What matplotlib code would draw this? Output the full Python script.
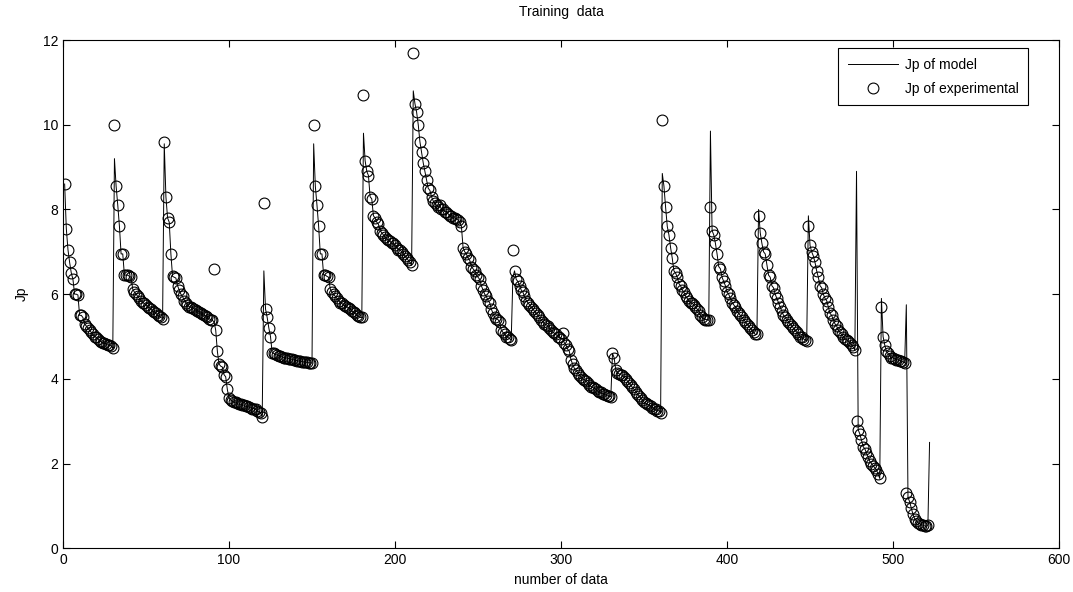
import numpy as np
import matplotlib.pyplot as plt

plt.rcParams['font.family'] = ['Liberation Sans', 'DejaVu Sans']

# experimental Jp, one list per run
seg_a = [8.6, 7.55, 7.05, 6.75, 6.5, 6.35, 6.0, 6.0, 5.98, 5.5, 5.5, 5.45, 5.3, 5.25, 5.2,
         5.15, 5.1, 5.05, 5.0, 4.98, 4.95, 4.9, 4.88, 4.85, 4.85, 4.82, 4.8, 4.8, 4.78, 4.72]
seg_b = [10.0, 8.55, 8.1, 7.6, 6.95, 6.95, 6.45, 6.45, 6.45, 6.42, 6.4, 6.12, 6.05, 6.0, 5.95,
         5.9, 5.85, 5.8, 5.78, 5.75, 5.7, 5.68, 5.65, 5.6, 5.58, 5.55, 5.5, 5.48, 5.45, 5.42]
seg_c = [9.6, 8.3, 7.8, 7.7, 6.95, 6.42, 6.4, 6.38, 6.2, 6.1, 6.0, 5.95, 5.85, 5.8, 5.75,
         5.7, 5.7, 5.68, 5.65, 5.62, 5.6, 5.58, 5.55, 5.52, 5.5, 5.48, 5.45, 5.42, 5.4, 5.38]
seg_d = [6.6, 5.15, 4.65, 4.35, 4.3, 4.28, 4.1, 4.05, 3.75, 3.55, 3.5, 3.48, 3.45, 3.45, 3.42,
         3.4, 3.4, 3.38, 3.38, 3.35, 3.35, 3.33, 3.32, 3.3, 3.3, 3.28, 3.25, 3.22, 3.2, 3.1]
seg_e = [8.15, 5.65, 5.45, 5.2, 5.0, 4.62, 4.6, 4.58, 4.56, 4.55, 4.53, 4.52, 4.5, 4.5, 4.49,
         4.48, 4.47, 4.46, 4.45, 4.44, 4.43, 4.42, 4.42, 4.41, 4.4, 4.4, 4.39, 4.38, 4.38, 4.37]
seg_f = [10.0, 8.55, 8.1, 7.6, 6.95, 6.95, 6.45, 6.45, 6.42, 6.4, 6.12, 6.05, 6.0, 5.95, 5.9,
         5.85, 5.8, 5.78, 5.75, 5.72, 5.7, 5.68, 5.65, 5.6, 5.58, 5.55, 5.5, 5.48, 5.45, 5.45]
seg_g = [10.7, 9.15, 8.9, 8.8, 8.3, 8.25, 7.85, 7.8, 7.7, 7.65, 7.5, 7.45, 7.4, 7.35, 7.3,
         7.28, 7.25, 7.2, 7.2, 7.15, 7.1, 7.05, 7.05, 7.0, 6.95, 6.9, 6.85, 6.8, 6.75, 6.68]
seg_h = [11.7, 10.5, 10.3, 10.0, 9.6, 9.35, 9.1, 8.9, 8.7, 8.5, 8.45, 8.3, 8.2, 8.15, 8.1,
         8.05, 8.1, 8.0, 8.0, 7.95, 7.95, 7.9, 7.85, 7.85, 7.8, 7.8, 7.78, 7.75, 7.7, 7.6]
seg_i = [7.1, 7.0, 6.95, 6.85, 6.8, 6.65, 6.6, 6.55, 6.45, 6.4, 6.35, 6.2, 6.1, 6.0, 5.95,
         5.85, 5.8, 5.65, 5.55, 5.45, 5.42, 5.4, 5.35, 5.15, 5.1, 5.05, 5.0, 4.98, 4.95, 4.92]
seg_j = [7.05, 6.55, 6.35, 6.3, 6.2, 6.1, 6.05, 5.95, 5.85, 5.8, 5.75, 5.7, 5.65, 5.6, 5.55,
         5.5, 5.45, 5.4, 5.35, 5.3, 5.28, 5.25, 5.2, 5.15, 5.1, 5.08, 5.05, 5.0, 4.98, 4.95]
seg_k = [5.08, 4.85, 4.8, 4.7, 4.65, 4.45, 4.35, 4.25, 4.2, 4.15, 4.1, 4.05, 4.0, 3.98, 3.95,
         3.9, 3.85, 3.82, 3.8, 3.78, 3.75, 3.72, 3.7, 3.68, 3.65, 3.65, 3.62, 3.6, 3.6, 3.58]
seg_l = [4.6, 4.5, 4.2, 4.15, 4.12, 4.1, 4.08, 4.05, 4.0, 3.95, 3.9, 3.85, 3.8, 3.75, 3.7,
         3.65, 3.6, 3.55, 3.5, 3.45, 3.42, 3.4, 3.38, 3.35, 3.32, 3.3, 3.28, 3.25, 3.25, 3.2]
seg_m = [10.1, 8.55, 8.05, 7.6, 7.4, 7.1, 6.85, 6.55, 6.5, 6.4, 6.25, 6.2, 6.1, 6.05, 5.95,
         5.9, 5.85, 5.8, 5.78, 5.75, 5.7, 5.65, 5.6, 5.5, 5.45, 5.42, 5.4, 5.4, 5.38]
seg_n = [8.05, 7.5, 7.4, 7.2, 6.95, 6.65, 6.6, 6.4, 6.3, 6.2, 6.05, 6.0, 5.9, 5.8, 5.75,
         5.7, 5.6, 5.55, 5.5, 5.45, 5.4, 5.35, 5.3, 5.25, 5.2, 5.15, 5.1, 5.05, 5.05]
seg_o = [7.85, 7.45, 7.2, 7.0, 6.95, 6.7, 6.45, 6.4, 6.2, 6.15, 6.0, 5.9, 5.8, 5.7, 5.6,
         5.5, 5.45, 5.4, 5.35, 5.3, 5.25, 5.2, 5.15, 5.1, 5.05, 5.0, 4.98, 4.95, 4.92, 4.9]
seg_p = [7.6, 7.15, 7.0, 6.9, 6.75, 6.55, 6.4, 6.2, 6.15, 6.0, 5.9, 5.85, 5.7, 5.55, 5.5,
         5.4, 5.3, 5.25, 5.15, 5.1, 5.05, 5.0, 4.95, 4.92, 4.9, 4.85, 4.8, 4.75, 4.68]
seg_q = [3.0, 2.8, 2.7, 2.55, 2.4, 2.35, 2.25, 2.15, 2.05, 2.0, 1.95, 1.9, 1.85, 1.75, 1.65]
seg_r = [5.7, 5.0, 4.8, 4.65, 4.6, 4.55, 4.5, 4.5, 4.48, 4.45, 4.45, 4.43, 4.42, 4.4, 4.38]
seg_s = [1.3, 1.2, 1.1, 0.95, 0.8, 0.7, 0.65, 0.6, 0.58, 0.55, 0.55, 0.53, 0.52, 0.55]

segments = [seg_a, seg_b, seg_c, seg_d, seg_e, seg_f, seg_g, seg_h, seg_i, seg_j,
            seg_k, seg_l, seg_m, seg_n, seg_o, seg_p, seg_q, seg_r, seg_s]

# model value at the first sample of each run (the spikes), and the last model sample
model_peaks = [8.6, 9.2, 9.55, 5.35, 6.55, 9.55, 9.8, 10.8, 7.1, 6.4,
               4.95, 4.6, 8.85, 9.85, 8.0, 7.85, 8.9, 5.9, 5.75]
model_last = 2.5

jp_exp = np.concatenate(segments)
starts = np.cumsum([0] + [len(s) for s in segments[:-1]])
jp_model = jp_exp.copy()
jp_model[starts] = model_peaks
jp_model = np.append(jp_model, model_last)

x_exp = np.arange(1, len(jp_exp) + 1)
x_model = np.arange(1, len(jp_model) + 1)

fig = plt.figure(figsize=(10.73, 5.92), dpi=100)
ax = fig.add_axes([0.0587, 0.0738, 0.9283, 0.8586])

ax.plot(x_model, jp_model, color='black', linewidth=0.7, label='Jp of model')
ax.plot(x_exp, jp_exp, linestyle='none', marker='o', markersize=7.8, markerfacecolor='none',
        markeredgecolor='black', markeredgewidth=0.8, label='Jp of experimental')

ax.set_xlim(0, 600)
ax.set_ylim(0, 12)
ax.set_xticks(range(0, 601, 100))
ax.set_yticks(range(0, 13, 2))
ax.tick_params(direction='in', top=True, right=True, labelsize=10, length=5, width=0.8)
for sp in ax.spines.values():
    sp.set_linewidth(0.8)

ax.set_title('Training  data', fontsize=10, pad=17)
ax.set_xlabel('number of data', fontsize=10, labelpad=4)
ax.set_ylabel('Jp', fontsize=10, labelpad=10)

leg = ax.legend(loc='upper right', bbox_to_anchor=(0.969, 0.984), fancybox=False,
                edgecolor='black', fontsize=10, handlelength=3.6, borderaxespad=0,
                borderpad=0.7, labelspacing=0.7, handletextpad=0.5, framealpha=1)
leg.get_frame().set_linewidth(0.8)

fig.savefig('out.png', dpi=100)
